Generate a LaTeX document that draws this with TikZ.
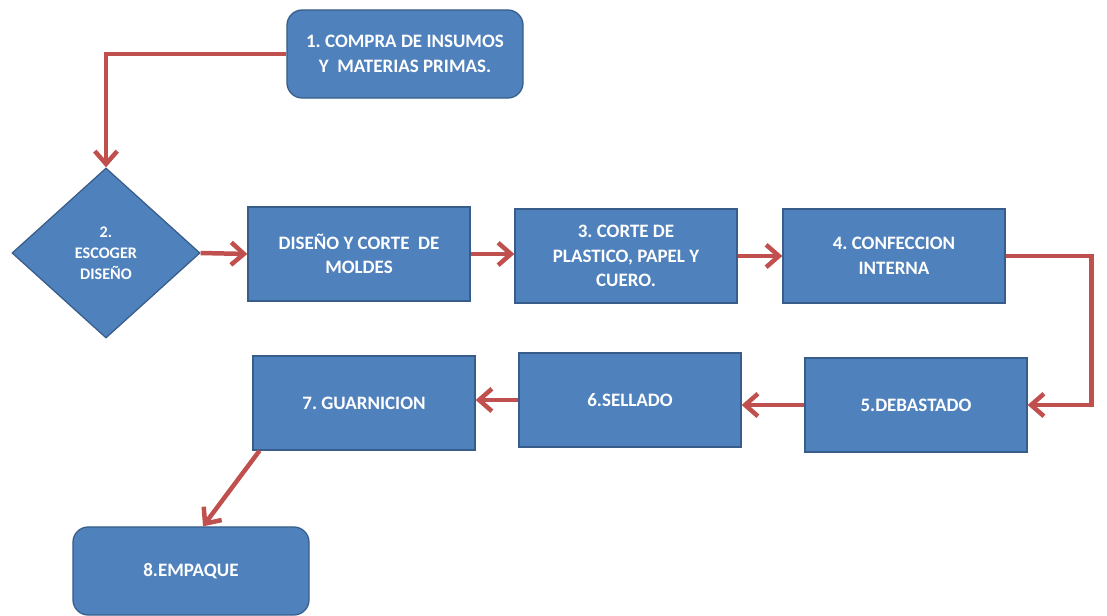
\documentclass[tikz,border=0pt]{standalone}
\usepackage{fontspec}
\setmainfont{Carlito}
\frenchspacing
\usetikzlibrary{arrows.meta,shapes.geometric}
\definecolor{boxBlue}{HTML}{4F81BD}
\definecolor{boxEdge}{HTML}{385D8A}
\definecolor{flowRed}{HTML}{C0504D}
\tikzset{%
  >={Straight Barb[length=3.2mm,width=5.6mm]},
  % Specifications for style of nodes:
            base/.style = {rectangle, draw=boxEdge, line width=0.9pt, fill=boxBlue,
                           inner sep=0pt, text=white, align=center,
                           font=\fontsize{13.5}{17.5}\selectfont\bfseries},
         process/.style = {base, minimum width=5.55cm, minimum height=2.35cm},
        terminal/.style = {base, rounded corners=0.38cm, minimum width=5.9cm, minimum height=2.2cm},
        decision/.style = {base, diamond, minimum width=4.7cm, minimum height=4.25cm,
                           font=\fontsize{11.5}{15}\selectfont\bfseries},
            flow/.style = {->, draw=flowRed, line width=3.2pt},
}
\begin{document}
\begin{tikzpicture}[x=0.025cm, y=-0.025cm]
  \useasboundingbox (0,0) rectangle (1107,616);
  \node (buyBlock)      [terminal] at (405,54)  {1. COMPRA DE INSUMOS\\ Y\ \ MATERIAS PRIMAS.};
  \node (chooseBlock)   [decision] at (106,253) {2.\\ ESCOGER\\ DISEÑO};
  \node (designBlock)   [process]  at (359,254) {DISEÑO Y CORTE\ \ DE\\ MOLDES};
  \node (cutBlock)      [process]  at (626,256) {3. CORTE DE\\ PLASTICO, PAPEL Y\\ CUERO.};
  \node (insideBlock)   [process]  at (894,256) {4. CONFECCION\\ INTERNA};
  \node (thinBlock)     [process]  at (916,405) {5.DEBASTADO};
  \node (sealBlock)     [process]  at (630,400) {6.SELLADO};
  \node (trimBlock)     [process]  at (364,403) {7. GUARNICION};
  \node (packBlock)     [terminal] at (191,571) {8.EMPAQUE};

  % Specification of lines between nodes specified above
  \draw[flow]    (buyBlock.west) -| (chooseBlock.north);
  \draw[flow] (chooseBlock.east) -- (designBlock.west);
  \draw[flow] (designBlock.east) -- (cutBlock.west |- designBlock.east);
  \draw[flow]    (cutBlock.east) -- (insideBlock.west);
  \draw[flow] (insideBlock.east) -- ++(86,0) |- (thinBlock.east);
  \draw[flow]   (thinBlock.west) -- (thinBlock.west -| sealBlock.east);
  \draw[flow]   (sealBlock.west) -- (sealBlock.west -| trimBlock.east);
  \draw[flow] ([xshift=0.18cm]trimBlock.south west) -- ([xshift=0.3cm]packBlock.north);
\end{tikzpicture}
\end{document}
